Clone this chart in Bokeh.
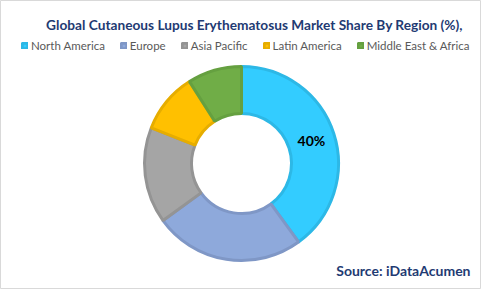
import math
from bokeh.plotting import figure
from bokeh.models import Range1d, Label, Legend, LegendItem
from bokeh.embed import file_html
from bokeh.resources import INLINE

regions = ["North America", "Europe", "Asia Pacific", "Latin America", "Middle East & Africa"]
shares = [40, 25, 16, 10, 9]
fills = ["#33CCFF", "#8EA9DB", "#A5A5A5", "#FFC000", "#70AD47"]
edges = ["#2DB8E6", "#7F97C6", "#949494", "#E6AD00", "#65A040"]
shown_labels = ["40%", "", "", "", ""]

W, H = 481, 289
p = figure(width=W, height=H, output_backend="svg", toolbar_location=None,
           x_range=Range1d(0, W), y_range=Range1d(0, H), min_border=0)
p.axis.visible = False
p.grid.visible = False
p.background_fill_color = "white"
p.border_fill_color = "white"
p.outline_line_color = "#D9D9D9"

cx, cy = 241, 289 - 163
r_out, r_in = 97, 50

total = sum(shares)
starts, ends, mids = [], [], []
a = math.pi / 2
for s in shares:
    sweep = 2 * math.pi * s / total
    starts.append(a)
    ends.append(a - sweep)
    mids.append(a - sweep / 2)
    a -= sweep

renderers = []
for i in range(len(regions)):
    r = p.annular_wedge(x=cx, y=cy, inner_radius=r_in, outer_radius=r_out,
                        start_angle=starts[i], end_angle=ends[i], direction="clock",
                        fill_color=fills[i], line_color=edges[i], line_width=3)
    renderers.append(r)

r_lab = (r_in + r_out) / 2
lx = [cx + r_lab * math.cos(m) for m in mids]
ly = [cy + r_lab * math.sin(m) for m in mids]
p.text(x=lx, y=ly, text=shown_labels, text_align="center", text_baseline="middle",
       text_font_size="14px", text_font_style="bold", text_color="#000000",
       text_font={"value": "Lato"})

legend = Legend(items=[LegendItem(label=regions[i], renderers=[renderers[i]]) for i in range(len(regions))],
                orientation="horizontal", location=(21, 237), padding=0, margin=0,
                spacing=15, label_standoff=3, glyph_width=7, glyph_height=7,
                label_text_font="Lato", label_text_font_size="11.5px", label_text_color="#595959",
                border_line_color=None, background_fill_alpha=0)
p.add_layout(legend, "center")

p.add_layout(Label(x=254, y=289 - 24, text="Global Cutaneous Lupus Erythematosus Market Share By Region (%),",
                   text_align="center", text_baseline="middle", text_font="Lato",
                   text_font_size="13.7px", text_font_style="bold", text_color="#1F3B73"))
p.add_layout(Label(x=470, y=289 - 270, text="Source: iDataAcumen",
                   text_align="right", text_baseline="middle", text_font="Lato",
                   text_font_size="14px", text_font_style="bold", text_color="#1F3B73"))

open("out.html", "w").write(file_html(p, INLINE))
